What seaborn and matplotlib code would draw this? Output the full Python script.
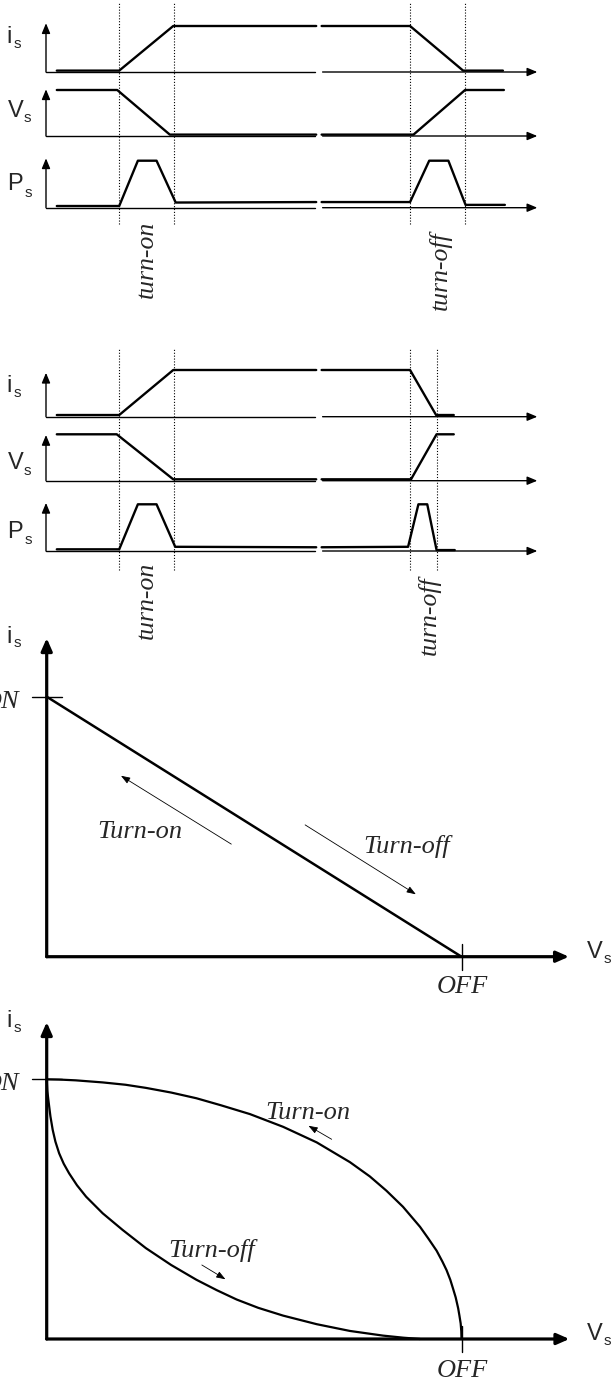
import numpy as np
import pandas as pd
import matplotlib
matplotlib.use("Agg")
import matplotlib.pyplot as plt
import seaborn as sns

sns.set_theme(style="white")
plt.rcParams["font.family"] = ["Liberation Sans", "DejaVu Sans"]

# ------------------------------------------------------------------ data
# Switching waveforms: time in arbitrary units (0 = vertical axis, 100 = arrow tip),
# levels normalised (0 = axis, 1 = on/off level). Two segments each (broken time axis).
A_I_T = [[2.2, 14.9, 25.9, 55.0], [56.1, 74.1, 84.9, 93.0]]
A_I_Y = [[0.03, 0.03, 1.0, 1.0], [1.0, 1.0, 0.03, 0.03]]
A_V_T = [[2.2, 14.5, 25.2, 55.0], [56.1, 74.8, 85.3, 93.2]]
A_V_Y = [[1.0, 1.0, 0.03, 0.03], [0.03, 0.03, 1.0, 1.0]]
A_P_T = [[2.2, 14.9, 18.7, 22.5, 26.4, 55.0], [56.1, 74.1, 78.0, 81.9, 85.4, 93.4]]
A_P_Y = [[0.036, 0.036, 1.0, 1.0, 0.11, 0.12], [0.12, 0.12, 1.0, 1.0, 0.06, 0.06]]
A_MARKS = [14.9, 26.0, 74.1, 85.3]

B_I_T = [[2.2, 14.9, 25.9, 55.0], [56.1, 74.1, 79.4, 83.0]]
B_I_Y = [[0.036, 0.036, 1.0, 1.0], [1.0, 1.0, 0.036, 0.036]]
B_V_T = [[2.2, 14.4, 25.9, 55.0], [56.1, 74.3, 79.5, 83.0]]
B_V_Y = [[1.0, 1.0, 0.03, 0.03], [0.03, 0.03, 1.0, 1.0]]
B_P_T = [[2.2, 14.9, 18.7, 22.5, 26.3, 55.0], [56.1, 73.7, 75.8, 77.6, 79.5, 83.2]]
B_P_Y = [[0.036, 0.036, 1.0, 1.0, 0.09, 0.08], [0.08, 0.09, 1.0, 1.0, 0.02, 0.02]]
B_MARKS = [14.9, 26.0, 74.1, 79.5]

WAVE_LABELS = ["i", "V", "P"]
TURN_LABELS = ["turn-on", "turn-off"]

# Switching trajectories (Vs normalised to OFF, is normalised to ON)
C_V = [0.0, 1.0]
C_I = [1.0, 0.0]

D_ON_V = [0.0, 0.03, 0.07, 0.135, 0.19, 0.239, 0.30, 0.361, 0.42, 0.49, 0.57,
          0.651, 0.731, 0.779, 0.819, 0.859, 0.90, 0.92, 0.94, 0.954, 0.964,
          0.973, 0.980, 0.986, 0.992, 0.995, 0.998, 0.9995, 1.0]
D_ON_I = [1.0, 0.999, 0.996, 0.988, 0.979, 0.967, 0.949, 0.927, 0.900, 0.866, 0.817,
          0.757, 0.681, 0.626, 0.571, 0.509, 0.432, 0.387, 0.340, 0.298, 0.265,
          0.228, 0.192, 0.160, 0.118, 0.090, 0.060, 0.030, 0.0]
D_OFF_V = [0.0, 0.0015, 0.005, 0.009, 0.0145, 0.021, 0.030, 0.041, 0.054, 0.073,
           0.095, 0.135, 0.183, 0.239, 0.30, 0.361, 0.41, 0.458, 0.51, 0.570,
           0.651, 0.731, 0.811, 0.86, 0.90]
D_OFF_I = [1.0, 0.955, 0.908, 0.857, 0.805, 0.760, 0.715, 0.675, 0.638, 0.592,
           0.548, 0.484, 0.420, 0.350, 0.285, 0.228, 0.188, 0.152, 0.120, 0.090,
           0.057, 0.031, 0.013, 0.005, 0.0]

# ------------------------------------------------------------------ figure
W, H = 613, 1382
fig = plt.figure(figsize=(W / 100, H / 100), dpi=100, facecolor="white")

SERIF = dict(family=["Liberation Serif", "DejaVu Serif"], style="italic")


def add_ax(x0, x1, y0, y1, xl, yl):
    """x0,x1: pixel columns of xl[0], xl[1]; y0,y1: pixel rows of yl[0], yl[1]."""
    ax = fig.add_axes([x0 / W, 1 - y0 / H, (x1 - x0) / W, (y0 - y1) / H])
    ax.set_facecolor("none")
    return ax, xl, yl


def finish(ax, xl, yl):
    ax.set_xlim(*xl)
    ax.set_ylim(*yl)
    ax.axis("off")
    for ln in ax.lines:
        ln.set_clip_on(False)
        ln.set_solid_joinstyle("round")


def ftext(x, y, s, **kw):
    fig.text(x / W, 1 - y / H, s, **kw)


def arrow(ax, p0, p1, lw, hl, hw):
    ax.annotate("", xy=p1, xytext=p0, annotation_clip=False,
                arrowprops=dict(arrowstyle=f"-|>,head_length={hl},head_width={hw}",
                                lw=lw, color="black", shrinkA=0, shrinkB=0,
                                mutation_scale=10))


def wave(ax, T, Y):
    rows = []
    for k, (ts, ys) in enumerate(zip(T, Y)):
        for t, y in zip(ts, ys):
            rows.append((k, t, y))
    df = pd.DataFrame(rows, columns=["seg", "t", "y"])
    sns.lineplot(data=df, x="t", y="y", units="seg", estimator=None, sort=False,
                 color="black", linewidth=1.7, ax=ax, legend=False)


def wave_panel(rows, data, marks, mark_span, lab_pos, turn_pos):
    axes = []
    for (yb, yt, tip), (T, Y), lp, lab in zip(rows, data, lab_pos, WAVE_LABELS):
        ax, xl, yl = add_ax(46, 537.3, yb, yt, (0, 100), (0, 1))
        wave(ax, T, Y)
        ax.plot([0, 54.8], [0, 0], color="black", lw=1.0)
        arrow(ax, (56.3, 0), (100, 0), 1.0, 0.6, 0.25)
        arrow(ax, (0, 0), (0, tip), 1.0, 0.6, 0.25)
        finish(ax, xl, yl)
        axes.append(ax)
        (mx, my), (sx, sy) = lp
        ftext(mx, my, lab, fontsize=17, va="baseline", ha="left")
        ftext(sx, sy, "s", fontsize=11, va="baseline", ha="left")
    axes[0].vlines(marks, mark_span[0], mark_span[1], colors="black", lw=0.8,
                   linestyles=(0, (1, 1.6)), clip_on=False)
    for (tx, ty), s in zip(turn_pos, TURN_LABELS):
        axes[2].text(tx, ty, s, rotation=90, ha="center", va="center",
                     fontsize=18.5, clip_on=False, **SERIF)


# Panel A
wave_panel(rows=[(72, 26, 1.06), (136, 90, 1.015), (207.7, 160.7, 1.05)],
           data=[(A_I_T, A_I_Y), (A_V_T, A_V_Y), (A_P_T, A_P_Y)],
           marks=A_MARKS, mark_span=(-3.30, 1.49),
           lab_pos=[((6.7, 43.3), (13.3, 48.3)), ((8.3, 116.7), (24, 122)),
                    ((7.1, 190), (25, 196.7))],
           turn_pos=[(20.5, -1.11), (80.2, -1.33)])

# Panel B
wave_panel(rows=[(416.7, 370, 0.94), (480.7, 434.3, 0.985), (551, 504.3, 1.03)],
           data=[(B_I_T, B_I_Y), (B_V_T, B_V_Y), (B_P_T, B_P_Y)],
           marks=B_MARKS, mark_span=(-3.28, 1.465),
           lab_pos=[((6.7, 391.7), (13.3, 397)), ((8.3, 469.3), (24, 475)),
                    ((7.1, 538.3), (25, 544))],
           turn_pos=[(20.5, -1.05), (78.0, -1.39)])


def iv_frame(ax, tipx, tipy):
    arrow(ax, (0, 0), (tipx, 0), 2.3, 0.75, 0.33)
    arrow(ax, (0, 0), (0, tipy), 2.3, 0.75, 0.33)
    ax.plot([-0.036, 0.036], [1, 1], color="black", lw=1.0)
    ax.plot([1, 1], [-0.05, 0.05], color="black", lw=1.0)


def iv_labels(ax, on_base, off_base):
    ax.text(-0.066, on_base, "ON", ha="right", va="baseline", fontsize=19,
            clip_on=False, **SERIF)
    ax.text(1.003, off_base, "OFF", ha="center", va="baseline", fontsize=19,
            clip_on=False, **SERIF)


# Panel C
axC, xl, yl = add_ax(46.7, 461.5, 956.7, 696.7, (0, 1), (0, 1))
sns.lineplot(x=C_V, y=C_I, sort=False, estimator=None, color="black",
             linewidth=1.8, ax=axC, legend=False)
iv_frame(axC, 1.259, 1.225)
iv_labels(axC, 0.957, -0.141)
arrow(axC, (0.445, 0.433), (0.179, 0.696), 0.6, 0.55, 0.2)
arrow(axC, (0.623, 0.507), (0.890, 0.240), 0.6, 0.55, 0.2)
axC.text(0.224, 0.457, "Turn-on", ha="center", va="baseline", fontsize=19, **SERIF)
axC.text(0.868, 0.40, "Turn-off", ha="center", va="baseline", fontsize=19, **SERIF)
finish(axC, xl, yl)
ftext(6.7, 643, "i", fontsize=17, va="baseline")
ftext(13.3, 647, "s", fontsize=11, va="baseline")
ftext(586.4, 958.3, "V", fontsize=17, va="baseline")
ftext(604, 963.3, "s", fontsize=11, va="baseline")

# Panel D
axD, xl, yl = add_ax(46.7, 461.5, 1339, 1079.3, (0, 1), (0, 1))
sns.lineplot(x=D_ON_V, y=D_ON_I, sort=False, estimator=None, color="black",
             linewidth=1.6, ax=axD, legend=False)
sns.lineplot(x=D_OFF_V, y=D_OFF_I, sort=False, estimator=None, color="black",
             linewidth=1.6, ax=axD, legend=False)
iv_frame(axD, 1.26, 1.22)
iv_labels(axD, 0.959, -0.145)
arrow(axD, (0.687, 0.769), (0.631, 0.821), 0.6, 0.55, 0.2)
arrow(axD, (0.374, 0.285), (0.431, 0.230), 0.6, 0.55, 0.2)
axD.text(0.629, 0.847, "Turn-on", ha="center", va="baseline", fontsize=19, **SERIF)
axD.text(0.398, 0.317, "Turn-off", ha="center", va="baseline", fontsize=19, **SERIF)
finish(axD, xl, yl)
ftext(6.7, 1027, "i", fontsize=17, va="baseline")
ftext(13.3, 1032, "s", fontsize=11, va="baseline")
ftext(586.4, 1340, "V", fontsize=17, va="baseline")
ftext(604, 1345, "s", fontsize=11, va="baseline")

fig.savefig("out.png", dpi=100, facecolor="white")
